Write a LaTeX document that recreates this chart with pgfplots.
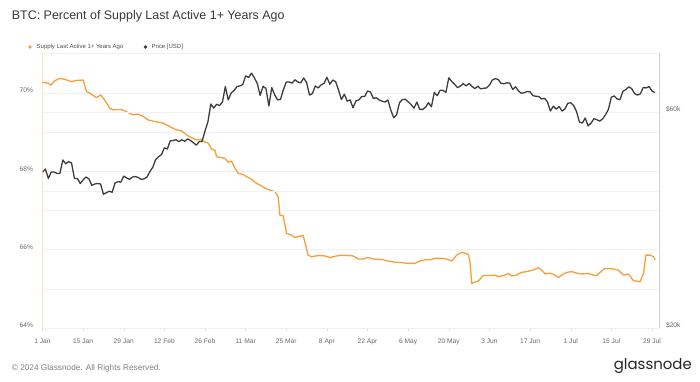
\documentclass[border=0pt]{standalone}
\usepackage{pgfplots}
\pgfplotsset{compat=1.18}
\usepackage{pgfplotstable}
\usepackage{fontspec}
\setmainfont{Liberation Sans}
\newfontfamily\logofont{Poppins}
\definecolor{btcorange}{RGB}{248,158,55}
\definecolor{pricegray}{RGB}{60,60,60}
\definecolor{gridgray}{RGB}{241,241,241}
\definecolor{ticktext}{RGB}{105,105,105}

\pgfplotstableread{
day pct
0 70.27
1.9 70.25
3 70.20
4.2 70.31
5.9 70.37
7.6 70.35
9.9 70.29
11.7 70.32
14 70.33
15.1 70.05
16.8 69.97
18.6 69.88
20.1 69.95
21.4 69.82
23.2 69.61
24.3 69.57
27.2 69.58
28.9 69.52
31.2 69.44
32.9 69.46
34.7 69.40
36.4 69.31
38.7 69.27
41.6 69.23
43.9 69.14
46.1 69.06
47.9 69.03
49.6 68.93
51.3 68.86
53 68.80
54.8 68.82
55.3 68.77
57.1 68.72
58.2 68.57
59.4 68.54
60 68.37
61.7 68.35
62.8 68.33
64 68.23
65.1 68.26
66.3 68.08
67.4 67.95
69.1 67.92
70.9 67.84
72 67.80
73.7 67.69
75.5 67.63
76.6 67.57
78.3 67.52
80.1 67.48
81.2 67.35
81.8 66.88
82.9 66.87
84.1 66.42
85.8 66.37
86.9 66.31
88.1 66.33
89.8 66.36
90.4 66.20
91.5 65.86
92.7 65.82
95 65.85
97.3 65.84
99 65.80
100.7 65.83
103 65.86
105.3 65.85
107 65.84
108.8 65.76
110.5 65.76
112.2 65.80
114 65.76
116.8 65.75
119.1 65.71
121.4 65.68
123.7 65.67
126 65.65
128.3 65.65
130.1 65.71
131.8 65.74
133.5 65.74
135.3 65.78
137.6 65.78
139.3 65.76
141 65.71
142.7 65.86
144.4 65.93
145.6 65.91
146.7 65.88
147.3 65.69
147.9 65.14
149 65.17
150.2 65.20
151.9 65.34
154.2 65.34
155.9 65.35
157.1 65.31
158.8 65.34
160.5 65.39
161.7 65.33
163.4 65.35
164 65.38
165.1 65.42
166.8 65.44
169.1 65.48
170.9 65.54
172 65.48
173.2 65.38
174.9 65.40
176.6 65.35
177.8 65.29
178.9 65.35
180.6 65.42
182.4 65.44
184.1 65.40
185.9 65.38
188.1 65.39
189.8 65.35
191 65.34
192.7 65.46
193.9 65.52
196.2 65.51
198.4 65.48
200.2 65.35
201.9 65.38
203.6 65.21
205.9 65.18
207.1 65.40
207.9 65.86
209.4 65.86
210.5 65.82
211.1 65.74
}\supplytable

\pgfplotstableread{
day price
0 44.2
1 44.9
2 42.8
3 44.2
4 44.2
5 43.9
6 43.9
7 47.0
8 46.1
9 46.6
10 46.3
11 42.8
12 42.8
13 41.7
14 42.5
15 43.1
16 42.7
17 41.3
18 41.6
19 41.7
20 41.6
21 39.5
22 39.8
23 40.1
24 39.9
25 41.8
26 42.1
27 42.0
28 43.3
29 42.9
30 42.6
31 43.1
32 43.2
33 43.0
34 42.6
35 42.7
36 43.1
37 44.3
38 45.3
39 47.1
40 47.8
41 48.3
42 50.0
43 49.7
44 51.8
45 51.9
46 52.1
47 51.6
48 52.1
49 51.7
50 52.3
51 51.9
52 51.3
53 50.7
54 51.6
55 51.7
56 54.5
57 57.1
58 62.5
59 61.2
60 62.4
61 62.0
62 63.1
63 68.3
64 63.8
65 66.1
66 66.9
67 68.3
68 68.5
69 69.0
70 72.1
71 71.5
72 73.1
73 71.4
74 69.4
75 65.3
76 68.4
77 67.6
78 61.9
79 67.9
80 65.5
81 63.8
82 64.0
83 67.2
84 69.9
85 69.9
86 69.5
87 70.7
88 69.9
89 69.6
90 71.3
91 69.7
92 65.4
93 65.9
94 68.5
95 67.8
96 68.9
97 69.4
98 71.6
99 69.1
100 70.6
101 70.0
102 67.1
103 63.9
104 65.7
105 63.4
106 63.8
107 61.3
108 63.5
109 63.8
110 64.9
111 64.9
112 66.8
113 66.4
114 64.3
115 64.5
116 63.8
117 63.4
118 63.1
119 63.8
120 60.6
121 58.3
122 59.1
123 62.9
124 63.9
125 64.0
126 63.2
127 62.3
128 61.2
129 63.1
130 60.8
131 60.8
132 61.5
133 62.9
134 61.6
135 66.3
136 65.2
137 67.0
138 67.0
139 66.3
140 71.4
141 70.1
142 69.1
143 67.9
144 68.5
145 69.3
146 68.5
147 69.4
148 68.3
149 67.6
150 68.4
151 67.5
152 67.7
153 67.8
154 68.8
155 70.6
156 71.1
157 70.8
158 69.4
159 69.3
160 69.6
161 69.5
162 67.3
163 68.2
164 66.8
165 66.0
166 66.2
167 66.6
168 66.5
169 65.2
170 65.0
171 64.9
172 64.1
173 64.3
174 63.2
175 60.3
176 61.8
177 60.9
178 61.7
179 60.3
180 60.9
181 62.7
182 62.9
183 62.0
184 60.2
185 57.0
186 56.7
187 58.2
188 55.9
189 56.7
190 58.0
191 57.7
192 57.3
193 57.9
194 59.2
195 60.8
196 64.7
197 65.1
198 64.1
199 63.9
200 66.7
201 67.2
202 68.2
203 67.6
204 65.9
205 65.4
206 65.8
207 68.0
208 67.8
209 68.3
210 66.8
211 66.2
}\pricetable

\begin{document}
\begin{tikzpicture}[x=1bp,y=1bp]
\path[use as bounding box] (0,0) rectangle (700,381);

% title
\node[anchor=base west, inner sep=0, text=black!78, font=\fontsize{12.5}{14}\selectfont] at (11.7,361.5) {BTC: Percent of Supply Last Active 1+ Years Ago};

% legend
\fill[btcorange] (30,334) circle (1.9);
\node[anchor=west, inner sep=0, text=black!70, font=\fontsize{6}{7}\selectfont] at (36.5,334) {Supply Last Active 1+ Years Ago};
\fill[pricegray] (145.5,334) circle (1.9);
\node[anchor=west, inner sep=0, text=black!70, font=\fontsize{6}{7}\selectfont] at (151.5,334) {Price [USD]};

% footer
\node[anchor=west, inner sep=0, text=black!50, font=\fontsize{8.3}{9}\selectfont] at (11.7,12.5) {\textcopyright\ 2024 Glassnode. All Rights Reserved.};
\node[anchor=east, inner sep=0, text=black!85, font=\logofont\fontsize{15}{16}\selectfont] at (692,15) {glassnode};

\begin{axis}[
  at={(42.5bp,53bp)}, anchor=south west, scale only axis,
  width=617bp, height=275bp,
  xmin=0, xmax=212.6, ymin=64, ymax=71.02,
  axis x line*=bottom, axis y line*=left,
  x axis line style={draw=black!12, -},
  y axis line style={draw=btcorange!30, line width=0.8pt, -},
  xtick={0,14,...,210},
  xticklabels={1 Jan,15 Jan,29 Jan,12 Feb,26 Feb,11 Mar,25 Mar,8 Apr,22 Apr,6 May,20 May,3 Jun,17 Jun,1 Jul,15 Jul,29 Jul},
  ytick={64,66,68,70},
  yticklabels={64\%,66\%,68\%,70\%},
  minor ytick={65,67,69},
  ymajorgrids, yminorgrids,
  major grid style={draw=gridgray, line width=0.5pt},
  minor grid style={draw=gridgray, line width=0.5pt},
  tick align=outside,
  xtick style={draw=black!12, line width=0.4pt},
  ytick style={draw=none},
  minor tick length=0pt,
  major tick length=3bp,
  tick label style={text=ticktext, font=\fontsize{6.7}{8}\selectfont},
  yticklabel style={xshift=-3bp, yshift=2.5bp},
  xticklabel style={yshift=-4bp},
  clip=false,
]
\draw[gridgray, line width=0.5pt] (axis cs:0,71.02) -- (axis cs:212.6,71.02);
\addplot[btcorange, line width=1.3pt, line join=round] table[x=day, y=pct] {\supplytable};
\end{axis}

\begin{axis}[
  at={(42.5bp,53bp)}, anchor=south west, scale only axis,
  width=617bp, height=275bp,
  xmin=0, xmax=212.6, ymode=log, ymin=20, ymax=81,
  axis x line=none, axis y line*=right,
  y axis line style={draw=black!18, line width=0.6pt, -},
  ytick={20,40,60},
  yticklabels={\$20k,,\$60k},
  log ticks with fixed point,
  ymajorgrids,
  major grid style={draw=gridgray, line width=0.5pt},
  ytick style={draw=none},
  tick label style={text=ticktext, font=\fontsize{6.7}{8}\selectfont},
  yticklabel style={xshift=3bp, yshift=2.5bp},
]
\addplot[pricegray, line width=1.3pt, line join=round] table[x=day, y=price] {\pricetable};
\end{axis}
\end{tikzpicture}
\end{document}
